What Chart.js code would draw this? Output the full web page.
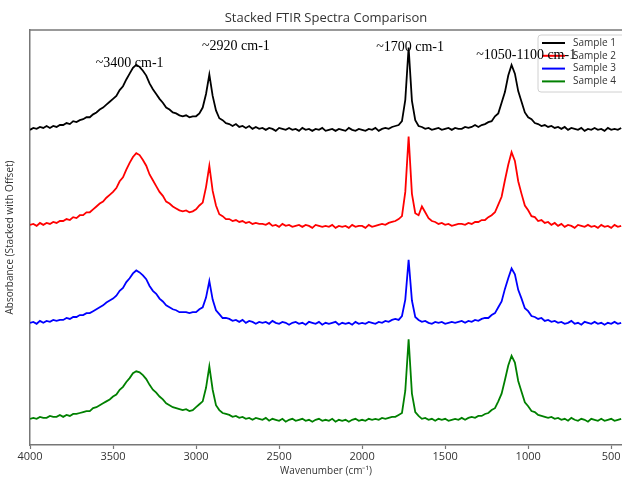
<!DOCTYPE html>
<html>
<head>
<meta charset="utf-8">
<script src="https://cdn.jsdelivr.net/npm/chart.js@4.4.1/dist/chart.umd.min.js"></script>
<style>
  html, body { margin: 0; padding: 0; background: #fff; }
  #wrap { width: 622px; height: 477px; }
</style>
</head>
<body>
<div id="wrap"><canvas id="ftir"></canvas></div>
<script>
// wavenumbers (cm-1), read every 20 cm-1
var wavenumbers = [
  4000, 3980, 3960, 3940, 3920, 3900, 3880, 3860, 3840, 3820,
  3800, 3780, 3760, 3740, 3720, 3700, 3680, 3660, 3640, 3620,
  3600, 3580, 3560, 3540, 3520, 3500, 3480, 3460, 3440, 3420,
  3400, 3380, 3360, 3340, 3320, 3300, 3280, 3260, 3240, 3220,
  3200, 3180, 3160, 3140, 3120, 3100, 3080, 3060, 3040, 3020,
  3000, 2980, 2960, 2940, 2920, 2900, 2880, 2860, 2840, 2820,
  2800, 2780, 2760, 2740, 2720, 2700, 2680, 2660, 2640, 2620,
  2600, 2580, 2560, 2540, 2520, 2500, 2480, 2460, 2440, 2420,
  2400, 2380, 2360, 2340, 2320, 2300, 2280, 2260, 2240, 2220,
  2200, 2180, 2160, 2140, 2120, 2100, 2080, 2060, 2040, 2020,
  2000, 1980, 1960, 1940, 1920, 1900, 1880, 1860, 1840, 1820,
  1800, 1780, 1760, 1740, 1720, 1700, 1680, 1660, 1640, 1620,
  1600, 1580, 1560, 1540, 1520, 1500, 1480, 1460, 1440, 1420,
  1400, 1380, 1360, 1340, 1320, 1300, 1280, 1260, 1240, 1220,
  1200, 1180, 1160, 1140, 1120, 1100, 1080, 1060, 1040, 1020,
  1000, 980, 960, 940, 920, 900, 880, 860, 840, 820,
  800, 780, 760, 740, 720, 700, 680, 660, 640, 620,
  600, 580, 560, 540, 520, 500, 480, 460, 440
];

var xTicks = [4000, 3500, 3000, 2500, 2000, 1500, 1000, 500];

var sampleNames = ['Sample 1', 'Sample 2', 'Sample 3', 'Sample 4'];
var sampleColors = ['#000000', '#ff0000', '#0000ff', '#008000'];
var offsets = [3, 2, 1, 0];

var sample1 = [
  -0.01, 0.01, 0.00, 0.02, 0.01, 0.03, 0.01, 0.03, 0.02, 0.04,
  0.04, 0.06, 0.05, 0.08, 0.07, 0.09, 0.10, 0.12, 0.12, 0.15,
  0.17, 0.20, 0.22, 0.25, 0.28, 0.31, 0.34, 0.40, 0.44, 0.51,
  0.57, 0.63, 0.66, 0.64, 0.60, 0.55, 0.47, 0.41, 0.36, 0.31,
  0.27, 0.22, 0.20, 0.17, 0.16, 0.14, 0.13, 0.14, 0.12, 0.13,
  0.13, 0.16, 0.22, 0.36, 0.56, 0.34, 0.19, 0.11, 0.09, 0.06,
  0.05, 0.03, 0.05, 0.02, 0.03, 0.01, 0.03, 0.00, 0.02, 0.00,
  0.01, -0.01, 0.01, 0.00, -0.02, 0.01, 0.00, -0.01, 0.01, -0.01,
  0.00, -0.02, 0.01, -0.01, 0.00, -0.02, 0.00, -0.01, 0.01, -0.02,
  -0.01, 0.00, -0.02, 0.00, -0.01, -0.02, 0.01, -0.01, -0.02, 0.00,
  -0.01, -0.02, 0.00, -0.01, 0.01, -0.02, 0.00, 0.01, 0.00, 0.02,
  0.03, 0.04, 0.08, 0.30, 0.84, 0.29, 0.09, 0.03, 0.02, 0.00,
  0.01, -0.01, 0.00, 0.01, -0.01, 0.00, 0.01, -0.01, 0.01, 0.00,
  0.00, 0.02, 0.01, 0.02, 0.04, 0.02, 0.04, 0.05, 0.07, 0.08,
  0.13, 0.16, 0.27, 0.38, 0.55, 0.66, 0.57, 0.39, 0.28, 0.17,
  0.12, 0.10, 0.06, 0.05, 0.03, 0.04, 0.02, 0.03, 0.01, 0.02,
  0.00, 0.02, -0.01, 0.01, 0.00, -0.01, 0.01, -0.02, 0.00, -0.01,
  0.01, -0.01, 0.00, -0.02, 0.01, -0.01, 0.00, -0.01, 0.01
];

var sample2 = [
  0.01, 0.02, 0.00, 0.03, 0.01, 0.03, 0.02, 0.04, 0.03, 0.05,
  0.05, 0.07, 0.06, 0.09, 0.08, 0.11, 0.11, 0.14, 0.14, 0.17,
  0.20, 0.23, 0.25, 0.29, 0.32, 0.35, 0.39, 0.46, 0.50, 0.58,
  0.65, 0.71, 0.75, 0.73, 0.68, 0.62, 0.53, 0.47, 0.41, 0.35,
  0.31, 0.25, 0.23, 0.20, 0.18, 0.16, 0.15, 0.16, 0.14, 0.15,
  0.17, 0.21, 0.24, 0.40, 0.62, 0.36, 0.21, 0.12, 0.10, 0.07,
  0.07, 0.05, 0.06, 0.04, 0.05, 0.03, 0.04, 0.02, 0.03, 0.02,
  0.02, 0.01, 0.03, 0.00, 0.01, -0.01, 0.02, 0.00, 0.01, -0.01,
  0.00, 0.01, -0.01, 0.01, 0.00, -0.02, 0.01, 0.00, -0.01, 0.00,
  -0.01, 0.01, -0.02, 0.00, -0.01, 0.00, -0.02, 0.01, -0.01, 0.00,
  0.00, -0.02, 0.01, -0.01, 0.00, 0.01, 0.02, 0.01, 0.03, 0.04,
  0.05, 0.07, 0.10, 0.35, 0.92, 0.33, 0.13, 0.11, 0.20, 0.14,
  0.08, 0.05, 0.04, 0.02, 0.03, 0.01, 0.02, 0.00, 0.01, 0.02,
  0.02, 0.01, 0.03, 0.02, 0.04, 0.04, 0.06, 0.06, 0.09, 0.11,
  0.14, 0.22, 0.30, 0.47, 0.63, 0.76, 0.67, 0.46, 0.33, 0.21,
  0.16, 0.10, 0.09, 0.05, 0.06, 0.03, 0.04, 0.01, 0.03, 0.00,
  0.02, -0.01, 0.01, 0.00, -0.02, 0.01, 0.00, -0.01, 0.01, -0.01,
  0.00, -0.02, 0.01, -0.01, 0.00, -0.02, 0.01, -0.01, 0.00
];

var sample3 = [
  0.00, 0.01, -0.01, 0.02, 0.00, 0.02, 0.01, 0.03, 0.02, 0.03,
  0.03, 0.05, 0.04, 0.06, 0.06, 0.08, 0.08, 0.10, 0.10, 0.12,
  0.14, 0.16, 0.18, 0.21, 0.23, 0.25, 0.28, 0.33, 0.36, 0.42,
  0.46, 0.51, 0.54, 0.52, 0.49, 0.45, 0.38, 0.33, 0.30, 0.25,
  0.22, 0.18, 0.16, 0.14, 0.13, 0.11, 0.11, 0.11, 0.10, 0.11,
  0.11, 0.14, 0.16, 0.26, 0.43, 0.24, 0.13, 0.09, 0.05, 0.05,
  0.04, 0.02, 0.03, 0.01, 0.03, 0.00, 0.02, 0.01, -0.01, 0.01,
  0.00, 0.01, -0.01, 0.02, 0.00, -0.01, 0.01, 0.00, -0.02, 0.00,
  0.01, -0.01, 0.00, -0.02, 0.01, 0.00, -0.01, 0.01, -0.02, 0.00,
  -0.01, 0.00, 0.01, -0.02, 0.00, -0.01, 0.00, -0.02, 0.01, -0.01,
  0.00, -0.01, 0.01, 0.00, -0.01, 0.01, 0.00, 0.02, 0.01, 0.03,
  0.04, 0.03, 0.07, 0.24, 0.65, 0.23, 0.06, 0.03, 0.01, 0.02,
  0.00, -0.01, 0.01, 0.00, 0.01, -0.01, 0.00, 0.01, 0.00, 0.01,
  0.02, 0.00, 0.02, 0.01, 0.03, 0.02, 0.04, 0.05, 0.05, 0.08,
  0.10, 0.16, 0.22, 0.35, 0.46, 0.56, 0.50, 0.34, 0.25, 0.15,
  0.12, 0.07, 0.06, 0.04, 0.05, 0.02, 0.03, 0.01, 0.02, 0.00,
  0.01, -0.01, 0.00, 0.02, -0.01, 0.00, -0.02, 0.01, 0.00, -0.01,
  0.01, -0.01, 0.00, -0.02, 0.00, -0.01, 0.01, -0.01, 0.00
];

var sample4 = [
  0.01, 0.02, 0.01, 0.03, 0.02, 0.02, 0.04, 0.03, 0.03, 0.05,
  0.03, 0.05, 0.04, 0.06, 0.06, 0.07, 0.08, 0.09, 0.09, 0.12,
  0.13, 0.15, 0.17, 0.19, 0.21, 0.24, 0.26, 0.31, 0.34, 0.39,
  0.43, 0.48, 0.50, 0.49, 0.46, 0.42, 0.36, 0.31, 0.28, 0.24,
  0.21, 0.17, 0.15, 0.13, 0.12, 0.11, 0.10, 0.11, 0.09, 0.10,
  0.13, 0.16, 0.19, 0.33, 0.55, 0.31, 0.15, 0.10, 0.07, 0.06,
  0.05, 0.03, 0.04, 0.02, 0.03, 0.01, 0.02, 0.00, 0.02, 0.01,
  0.00, 0.02, -0.01, 0.01, 0.00, -0.01, 0.01, -0.02, 0.00, 0.01,
  -0.01, 0.00, 0.01, -0.01, 0.00, -0.02, 0.00, 0.01, -0.01, 0.00,
  -0.01, 0.01, -0.02, 0.00, -0.01, 0.00, -0.02, 0.00, 0.01, -0.01,
  0.00, -0.01, 0.01, 0.00, 0.01, 0.00, 0.02, 0.01, 0.02, 0.03,
  0.03, 0.05, 0.07, 0.30, 0.83, 0.27, 0.08, 0.04, 0.01, 0.02,
  0.00, 0.01, -0.01, 0.01, 0.00, 0.01, -0.01, 0.00, 0.01, 0.00,
  0.02, 0.00, 0.02, 0.03, 0.02, 0.04, 0.04, 0.06, 0.07, 0.10,
  0.12, 0.19, 0.27, 0.41, 0.56, 0.66, 0.59, 0.40, 0.29, 0.18,
  0.14, 0.09, 0.08, 0.05, 0.04, 0.03, 0.02, 0.03, 0.01, 0.02,
  0.00, 0.01, -0.01, 0.02, 0.00, -0.01, 0.01, 0.00, -0.02, 0.01,
  0.00, -0.01, 0.01, -0.01, 0.00, 0.01, -0.01, 0.00, 0.01
];

// peak labels, placed in data units
var annotationLabels = ['~3400 cm-1', '~2920 cm-1', '~1700 cm-1', '~1050-1100 cm-1'];
var annotationX = [3400, 2760, 1711, 1012];
var annotationY = [3.68, 3.85, 3.84, 3.76];

var allSamples = [sample1, sample2, sample3, sample4];

var datasets = [];
for (var s = 0; s < allSamples.length; s++) {
  var pts = [];
  for (var i = 0; i < wavenumbers.length; i++) {
    pts.push({ x: wavenumbers[i], y: allSamples[s][i] + offsets[s] });
  }
  datasets.push({
    label: sampleNames[s],
    data: pts,
    borderColor: sampleColors[s],
    backgroundColor: sampleColors[s],
    borderWidth: 1.8,
    pointRadius: 0,
    tension: 0,
    fill: false
  });
}

var extras = {
  id: 'extras',
  afterDraw: function(chart) {
    var ctx = chart.ctx;
    var area = chart.chartArea;
    var xs = chart.scales.x;
    var ys = chart.scales.y;
    ctx.save();

    // top frame line
    ctx.strokeStyle = '#777';
    ctx.lineWidth = 1.5;
    ctx.beginPath();
    ctx.moveTo(area.left, area.top);
    ctx.lineTo(area.right, area.top);
    ctx.stroke();

    // title
    ctx.fillStyle = '#333';
    ctx.font = '13px "Open Sans", sans-serif';
    ctx.textAlign = 'center';
    ctx.textBaseline = 'middle';
    ctx.fillText('Stacked FTIR Spectra Comparison', (area.left + area.right) / 2, 18);

    // legend
    var lx = 538, ly = 35;
    ctx.fillStyle = 'rgba(255,255,255,0.85)';
    ctx.strokeStyle = '#d0d0d0';
    ctx.lineWidth = 1;
    ctx.beginPath();
    ctx.roundRect(lx, ly, 100, 57, 3);
    ctx.fill();
    ctx.stroke();
    ctx.font = '10px "Open Sans", sans-serif';
    ctx.textAlign = 'left';
    for (var k = 0; k < sampleNames.length; k++) {
      var yy = ly + 8 + k * 12.8;
      ctx.strokeStyle = sampleColors[k];
      ctx.lineWidth = 2;
      ctx.beginPath();
      ctx.moveTo(lx + 4, yy);
      ctx.lineTo(lx + 27, yy);
      ctx.stroke();
      ctx.fillStyle = '#333';
      ctx.fillText(sampleNames[k], lx + 35, yy);
    }

    // peak labels
    ctx.fillStyle = '#000';
    ctx.font = '14px "Liberation Serif", serif';
    ctx.textAlign = 'center';
    for (var a = 0; a < annotationLabels.length; a++) {
      ctx.fillText(annotationLabels[a], xs.getPixelForValue(annotationX[a]), ys.getPixelForValue(annotationY[a]));
    }
    ctx.restore();
  }
};

var chart = new Chart(document.getElementById('ftir'), {
  type: 'line',
  data: { datasets: datasets },
  options: {
    responsive: true,
    maintainAspectRatio: false,
    animation: false,
    layout: { padding: { top: 30, right: 0, bottom: 0, left: 0 } },
    plugins: {
      legend: { display: false },
      tooltip: { enabled: false }
    },
    scales: {
      x: {
        type: 'linear',
        reverse: true,
        min: 435,
        max: 4000,
        afterBuildTicks: function(scale) {
          scale.ticks = xTicks.map(function(v) { return { value: v }; });
        },
        afterFit: function(scale) { scale.height = 32; },
        grid: { drawOnChartArea: false, color: '#777', tickLength: 4, tickWidth: 1.2 },
        border: { color: '#777', width: 1.5 },
        ticks: {
          color: '#333',
          font: { size: 11, family: 'Open Sans' },
          padding: 1,
          maxRotation: 0,
          callback: function(value) { return String(value); }
        },
        title: {
          display: true,
          text: 'Wavenumber (cm⁻¹)',
          color: '#333',
          font: { size: 10, family: 'Open Sans' },
          padding: { top: 0, bottom: 0 }
        }
      },
      y: {
        min: -0.26,
        max: 4.02,
        afterFit: function(scale) { scale.width = 30; },
        grid: { display: false },
        border: { color: '#777', width: 1.5 },
        ticks: { display: false },
        title: {
          display: true,
          text: 'Absorbance (Stacked with Offset)',
          color: '#333',
          font: { size: 10, family: 'Open Sans' },
          padding: { top: 4, bottom: 0 }
        }
      }
    }
  },
  plugins: [extras]
});
</script>
</body>
</html>
